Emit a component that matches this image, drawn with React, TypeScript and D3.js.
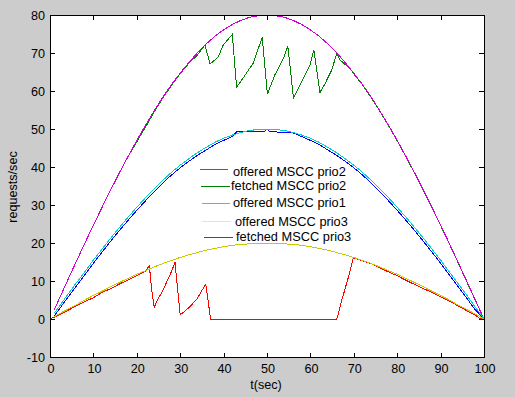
import * as d3 from "d3";

// sample times for the smooth curves
const tSmooth = [1, 2, 4, 6, 8, 10, 12, 14, 16, 18, 20, 22, 24, 26, 28, 30, 32, 34, 36, 38, 40, 42, 44, 46, 48, 50,
  52, 54, 56, 58, 60, 62, 64, 66, 68, 70, 72, 74, 76, 78, 80, 82, 84, 86, 88, 90, 92, 94, 96, 98, 100];

// magenta (legend: offered MSCC prio2)
const magentaVals = [2.5, 5.0, 10.0, 15.0, 19.9, 24.7, 29.4, 34.0, 38.5, 42.8, 47.0, 51.0, 54.8, 58.4, 61.7, 64.7, 67.5, 70.1, 72.4, 74.4, 76.1, 77.5, 78.6, 79.4, 79.8, 80.0,
  79.8, 79.4, 78.6, 77.5, 76.1, 74.4, 72.4, 70.1, 67.5, 64.7, 61.7, 58.4, 54.8, 51.0, 47.0, 42.8, 38.5, 34.0, 29.4, 24.7, 19.9, 15.0, 10.0, 5.0, 0];

// cyan (legend: offered MSCC prio1)
const cyanVals = [1.6, 3.1, 6.3, 9.4, 12.4, 15.5, 18.4, 21.3, 24.1, 26.8, 29.4, 31.9, 34.3, 36.5, 38.6, 40.5, 42.2, 43.8, 45.2, 46.5, 47.6, 48.4, 49.1, 49.6, 49.9, 50.0,
  49.9, 49.6, 49.1, 48.4, 47.6, 46.5, 45.2, 43.8, 42.2, 40.5, 38.6, 36.5, 34.3, 31.9, 29.4, 26.8, 24.1, 21.3, 18.4, 15.5, 12.4, 9.4, 6.3, 3.1, 0];

// yellow (legend: offered MSCC prio3)
const yellowVals = [0.6, 1.3, 2.5, 3.7, 5.0, 6.2, 7.3, 8.5, 9.6, 10.7, 11.8, 12.7, 13.7, 14.6, 15.4, 16.2, 16.9, 17.5, 18.1, 18.6, 19.0, 19.4, 19.6, 19.8, 20.0, 20.0,
  20.0, 19.8, 19.6, 19.4, 19.0, 18.6, 18.1, 17.5, 16.9, 16.2, 15.4, 14.6, 13.7, 12.7, 11.8, 10.7, 9.6, 8.5, 7.3, 6.2, 5.0, 3.7, 2.5, 1.3, 0];

// blue (not in legend)
const blueT = [1, 2, 4, 6, 8, 10, 12, 14, 16, 18, 20, 22, 24, 26, 28, 30, 32, 34, 36, 38, 40, 42, 43, 49.3, 50, 50.7, 56, 58,
  60, 62, 64, 66, 68, 70, 72, 74, 76, 78, 80, 82, 84, 86, 88, 90, 92, 94, 96, 98, 100];
const blueVals = [0.9, 2.4, 5.5, 8.6, 11.6, 14.7, 17.6, 20.5, 23.3, 26.0, 28.6, 31.1, 33.5, 35.8, 37.9, 39.8, 41.5, 43.1, 44.5, 45.9, 47.0, 48.0, 49.3, 49.3, 50.0, 49.3, 49.0, 48.0,
  47.0, 45.9, 44.5, 43.1, 41.5, 39.8, 37.9, 35.8, 33.5, 31.1, 28.6, 26.0, 23.3, 20.5, 17.6, 14.7, 11.6, 8.6, 5.5, 2.4, 0];

// green (legend: fetched MSCC prio2)
const greenT = [1, 2, 4, 6, 8, 10, 12, 14, 16, 18, 20, 21, 22, 24, 26, 28, 30, 32, 34, 35.7, 36.9, 38.8, 39.9, 42.0, 43.0, 44.5, 46.8, 48.9,
  50.1, 51.8, 53.8, 54.8, 56.1, 58.4, 59.9, 60.8, 62.2, 63.4, 64.9, 66.1, 66.8, 68, 69.1, 70, 72, 74, 76, 78, 80, 82, 84, 86, 88, 90, 92, 94, 96, 98, 100];
const greenVals = [2.5, 5.0, 10.0, 15.0, 19.9, 24.7, 29.4, 34.0, 38.5, 42.8, 46.6, 48.6, 50.5, 54.5, 58.2, 61.5, 64.6, 67.3, 69.5, 72.1, 67.1, 69.0, 72.1, 74.9, 61.0, 63.4, 67.3, 74.1,
  59.2, 64.2, 68.6, 71.8, 58.1, 63.4, 66.8, 70.8, 59.6, 62.0, 65.5, 69.9, 68.2, 67.0, 66.0, 64.5, 61.6, 58.3, 54.7, 50.9, 46.9, 42.7, 38.4, 33.9, 29.3, 24.6, 19.8, 14.9, 9.9, 4.9, 0];

// red (legend: fetched MSCC prio3)
const redT = [0, 2, 4, 6, 8, 10, 12, 14, 16, 18, 20, 21, 22, 22.9, 23.4, 24.0, 25, 26, 27, 28, 28.8, 29.4, 30.0, 31, 32, 33, 34, 35, 35.9, 36.4, 37,
  66.1, 67, 68, 69, 69.9, 72, 74, 76, 78, 80, 82, 84, 86, 88, 90, 92, 94, 96, 98, 99, 100];
const redVals = [0, 1.0, 2.2, 3.4, 4.6, 5.6, 7.0, 8.0, 9.2, 10.3, 11.4, 12.0, 12.6, 14.0, 8.0, 3.1, 5.5, 7.5, 10.0, 12.5, 14.9, 8.0, 1.1, 2.0, 3.0, 4.2, 5.5, 7.5, 9.1, 5.0, 0,
  0, 4.0, 8.0, 12.0, 16.1, 15.3, 14.6, 13.4, 12.4, 11.4, 10.2, 9.1, 8.0, 7.0, 5.8, 4.7, 3.5, 2.2, 1.0, 0.2, 0];

const xTicks = [0, 10, 20, 30, 40, 50, 60, 70, 80, 90, 100];
const yTicks = [-10, 0, 10, 20, 30, 40, 50, 60, 70, 80];

const legendLabels = ["offered MSCC prio2", "fetched MSCC prio2", "offered MSCC prio1", "offered MSCC prio3", "fetched MSCC prio3"];
const legendColors = ["#e000e0", "#008000", "#00e0e0", "#ffff00", "#ff0000"];

const W = 515;
const H = 397;
const left = 50, right = 484, top = 15, bottom = 357;

export default function App() {
  const x = d3.scaleLinear().domain([0, 100]).range([left, right]);
  const y = d3.scaleLinear().domain([-10, 80]).range([bottom, top]);
  const line = d3
    .line<[number, number]>()
    .x((d) => x(d[0]))
    .y((d) => y(d[1]));
  const zip = (ts: number[], vs: number[]) => ts.map((t, i) => [t, vs[i]] as [number, number]);

  const series = [
    { c: "#008000", d: zip(greenT, greenVals) },
    { c: "#d000d0", d: zip(tSmooth, magentaVals) },
    { c: "#0000ff", d: zip(blueT, blueVals) },
    { c: "#00d0d0", d: zip(tSmooth, cyanVals) },
    { c: "#ff0000", d: zip(redT, redVals) },
    { c: "#c8c800", d: zip(tSmooth, yellowVals) },
  ];

  // odd hand placed legend of the original figure
  const legendPos = [
    { x1: 200, x2: 228, ly: 169, tx: 233, ty: 175.5 },
    { x1: 201, x2: 230, ly: 186, tx: 231, ty: 190 },
    { x1: 202, x2: 230, ly: 203, tx: 233, ty: 207 },
    { x1: 202, x2: 231, ly: 221, tx: 235, ty: 225.5 },
    { x1: 204, x2: 233, ly: 237, tx: 236, ty: 240.5 },
  ];

  const font = "Arial, 'Liberation Sans', sans-serif";

  return (
    <svg width={W} height={H} style={{ position: "absolute", left: 0, top: 0 }} fontFamily={font}>
      <rect width={W} height={H} fill="#cccccc" />
      <rect x={left} y={top} width={right - left} height={bottom - top} fill="#ffffff" />
      <g shapeRendering="crispEdges">
        {series.map((s, i) => (
          <path key={i} d={line(s.d) ?? ""} fill="none" stroke={s.c} strokeWidth={1} />
        ))}
      </g>
      <rect x={left + 0.5} y={top + 0.5} width={right - left} height={bottom - top} fill="none" stroke="#000" shapeRendering="crispEdges" />
      <g stroke="#000" shapeRendering="crispEdges">
        {xTicks.map((t) => (
          <g key={"x" + t}>
            <line x1={Math.round(x(t)) + 0.5} x2={Math.round(x(t)) + 0.5} y1={bottom} y2={bottom - 4} />
            <line x1={Math.round(x(t)) + 0.5} x2={Math.round(x(t)) + 0.5} y1={top} y2={top + 5} />
          </g>
        ))}
        {yTicks.map((t) => (
          <g key={"y" + t}>
            <line x1={left} x2={left + 5} y1={Math.round(y(t)) + 0.5} y2={Math.round(y(t)) + 0.5} />
            <line x1={right} x2={right - 5} y1={Math.round(y(t)) + 0.5} y2={Math.round(y(t)) + 0.5} />
          </g>
        ))}
      </g>
      <g fontSize={12.6} fill="#000">
        {xTicks.map((t) => (
          <text key={"xl" + t} x={x(t) + 1} y={372.5} textAnchor="middle">{t}</text>
        ))}
        {yTicks.map((t) => (
          <text key={"yl" + t} x={45} y={y(t) + 4.5} textAnchor="end">{t}</text>
        ))}
        <text x={266} y={389} textAnchor="middle">t(sec)</text>
        <text transform="translate(17,187) rotate(-90)" textAnchor="middle">requests/sec</text>
      </g>
      <g fontSize={12.8}>
        {legendLabels.map((lab, i) => (
          <g key={lab}>
            <line x1={legendPos[i].x1} x2={legendPos[i].x2} y1={legendPos[i].ly + 0.5} y2={legendPos[i].ly + 0.5} stroke={legendColors[i]} shapeRendering="crispEdges" />
            <text x={legendPos[i].tx} y={legendPos[i].ty} fill="#000">{lab}</text>
          </g>
        ))}
      </g>
    </svg>
  );
}
